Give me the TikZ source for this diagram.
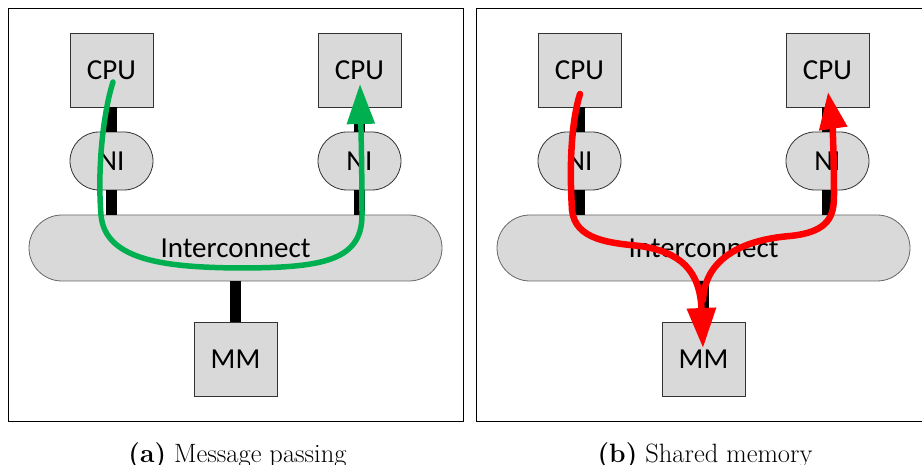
\documentclass[tikz,border=0pt]{standalone}
\usepackage{fontspec}
\newfontfamily\calfont{Carlito}
\usetikzlibrary{arrows.meta, calc}

\definecolor{boxgray}{HTML}{D9D9D9}
\definecolor{msggreen}{HTML}{00B050}
\definecolor{shmred}{HTML}{FF0000}

\tikzset{
  unit/.style={rectangle, draw=black!80, fill=boxgray, line width=0.8pt,
    minimum width=83pt, minimum height=74pt, inner sep=0pt,
    font=\calfont\fontsize{29}{32}\selectfont},
  nic/.style={unit, rounded corners=29pt, minimum height=58pt},
  bus/.style={unit, draw=black!60, rounded corners=33pt,
    minimum width=413pt, minimum height=66pt},
  link/.style={line width=11pt},
  panel/.style={draw, line width=0.9pt},
  flow/.style={line width=5.5pt, line cap=round},
  subcap/.style={anchor=base, font=\fontsize{26.5}{30}\selectfont},
}

\begin{document}
\begin{tikzpicture}[x=1pt, y=-1pt]
  \useasboundingbox (0,0) rectangle (922,465);
  \draw[panel] (8,8) rectangle (463,421);
  \draw[panel] (476,8) rectangle (931,421);

  % (a) message passing
  \node (cpuAL) [unit] at (111.5,70)  {CPU};
  \node (cpuAR) [unit] at (359.5,70)  {CPU};
  \node (niAL)  [nic]  at (111.5,161) {NI};
  \node (niAR)  [nic]  at (359.5,161) {NI};
  \node (netA)  [bus]  at (235.5,248) {Interconnect};
  \node (mmA)   [unit] at (235.5,359) {MM};
  \draw[link] (cpuAL) -- (niAL);
  \draw[link] (cpuAR) -- (niAR);
  \draw[link] (niAL.south) -- (niAL.south |- netA.north);
  \draw[link] (niAR.south) -- (niAR.south |- netA.north);
  \draw[link] (netA) -- (mmA);

  % (b) shared memory
  \node (cpuBL) [unit] at (579.5,70)  {CPU};
  \node (cpuBR) [unit] at (827.5,70)  {CPU};
  \node (niBL)  [nic]  at (579.5,161) {NI};
  \node (niBR)  [nic]  at (827.5,161) {NI};
  \node (netB)  [bus]  at (703.5,248) {Interconnect};
  \node (mmB)   [unit] at (703.5,359) {MM};
  \draw[link] (cpuBL) -- (niBL);
  \draw[link] (cpuBR) -- (niBR);
  \draw[link] (niBL.south) -- (niBL.south |- netB.north);
  \draw[link] (niBR.south) -- (niBR.south |- netB.north);
  \draw[link] (netB) -- (mmB);

  % paths of the data
  \draw[flow, msggreen, -{Triangle[length=40pt, width=27pt]}]
    ($(cpuAL)+(1.5,12)$) .. controls (104,110) and (97,165) .. (101,215)
    .. controls (105,262) and (170,267) .. (236,268)
    .. controls (320,268) and (362,262) .. (362,215)
    .. controls (362,170) and (361,130) .. ($(cpuAR)+(0.5,14)$);
  \coordinate (join) at ($(mmB)+(-0.5,-59)$);
  \draw[flow, shmred, line width=6.5pt, -{Triangle[length=40pt, width=28pt]}]
    ($(cpuBL)+(0.5,24)$) .. controls (572,120) and (569,160) .. (572,210)
    .. controls (575,240) and (610,243) .. (640,246)
    .. controls (680,252) and (700,270) .. ($(mmB)+(-0.5,-11)$);
  \draw[flow, shmred, line width=6.5pt, -{Triangle[length=37pt, width=27pt]}]
    (join) .. controls (705,260) and (740,240) .. (790,236)
    .. controls (830,232) and (834,215) .. (834,195)
    .. controls (834,150) and (832,120) .. ($(cpuBR)+(0.5,22)$);

  \node (capA) [subcap] at (237.5,462) {\textbf{(a)} Message passing};
  \node (capB) [subcap] at (705,462) {\textbf{(b)} Shared memory};
\end{tikzpicture}
\end{document}
